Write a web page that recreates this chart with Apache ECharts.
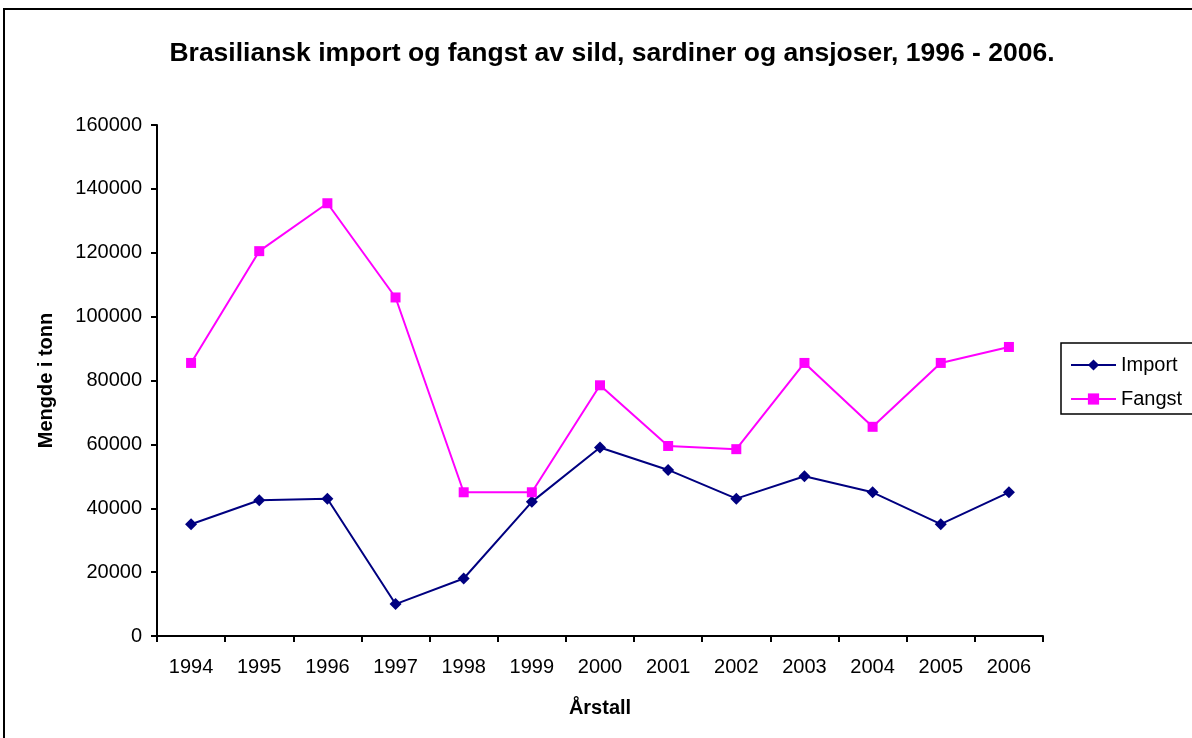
<!DOCTYPE html>
<html>
<head>
<meta charset="utf-8">
<script src="https://cdn.jsdelivr.net/npm/echarts@6/dist/echarts.min.js"></script>
<style>
  html, body { margin: 0; padding: 0; background: #fff; }
  #main { width: 1192px; height: 738px; }
</style>
</head>
<body>
<div id="main"></div>
<script>
// data
var years = ['1994', '1995', '1996', '1997', '1998', '1999', '2000', '2001', '2002', '2003', '2004', '2005', '2006'];
var importData = [35000, 42500, 43000, 10000, 18000, 42000, 59000, 52000, 43000, 50000, 45000, 35000, 45000];
var fangstData = [85500, 120500, 135500, 106000, 45000, 45000, 78500, 59500, 58500, 85500, 65500, 85500, 90500];

var chart = echarts.init(document.getElementById('main'));

var option = {
  backgroundColor: '#fff',
  animation: false,
  textStyle: { fontFamily: 'Liberation Sans, Arial, sans-serif' },
  title: {
    text: 'Brasiliansk import og fangst av sild, sardiner og ansjoser, 1996 - 2006.',
    left: 607,
    textAlign: 'center',
    top: 35,
    textStyle: { fontSize: 26.5, fontWeight: 'bold', color: '#000' }
  },
  legend: {
    orient: 'vertical',
    left: 1065,
    top: 350,
    itemGap: 14,
    itemWidth: 45,
    itemHeight: 14,
    textStyle: { fontSize: 20, color: '#000' },
    data: ['Import', 'Fangst']
  },
  grid: { left: 157, right: 149, top: 125, bottom: 102 },
  xAxis: {
    type: 'category',
    data: years,
    boundaryGap: true,
    name: 'Årstall',
    nameLocation: 'middle',
    nameGap: 62,
    nameTextStyle: { fontSize: 20, fontWeight: 'bold', color: '#000' },
    axisLine: { lineStyle: { color: '#000', width: 2 } },
    axisTick: { show: true, length: 6, lineStyle: { color: '#000', width: 2 } },
    axisLabel: { fontSize: 20, color: '#000', margin: 21 },
    splitLine: { show: false }
  },
  yAxis: {
    type: 'value',
    min: 0,
    max: 160000,
    interval: 20000,
    name: 'Mengde i tonn',
    nameLocation: 'middle',
    nameGap: 101,
    nameRotate: 90,
    nameTextStyle: { fontSize: 20, fontWeight: 'bold', color: '#000' },
    axisLine: { show: true, lineStyle: { color: '#000', width: 2 } },
    axisTick: { show: true, length: 6, lineStyle: { color: '#000', width: 2 } },
    axisLabel: { fontSize: 20, color: '#000', margin: 15, formatter: function (v) { return String(v); } },
    splitLine: { show: false }
  },
  series: [
    {
      name: 'Import',
      type: 'line',
      data: importData,
      symbol: 'diamond',
      symbolSize: 12,
      color: '#000080',
      lineStyle: { color: '#000080', width: 2 },
      itemStyle: { color: '#000080' }
    },
    {
      name: 'Fangst',
      type: 'line',
      data: fangstData,
      symbol: 'rect',
      symbolSize: 10,
      color: '#ff00ff',
      lineStyle: { color: '#ff00ff', width: 2 },
      itemStyle: { color: '#ff00ff' }
    }
  ],
  graphic: [
    {
      type: 'rect',
      shape: { x: 4, y: 9, width: 1200, height: 740 },
      style: { fill: 'none', stroke: '#000', lineWidth: 2 }
    },
    {
      type: 'rect',
      shape: { x: 1061, y: 343, width: 140, height: 71 },
      style: { fill: 'none', stroke: '#000', lineWidth: 1.5 }
    }
  ]
};

chart.setOption(option);
</script>
</body>
</html>
